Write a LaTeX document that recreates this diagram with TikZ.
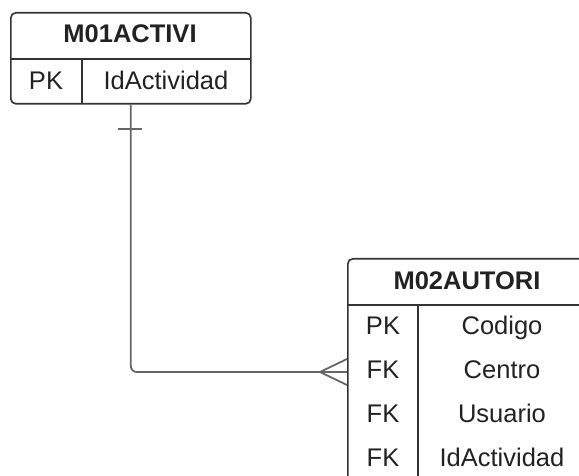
\documentclass[tikz,border=0pt]{standalone}
\usepackage{fontspec}
\setmainfont{Liberation Sans}
\begin{document}
\begin{tikzpicture}[x=1pt,y=-1pt,
  frame/.style={draw=framecol, line width=1.6pt, rounded corners=5pt, inner sep=0pt, anchor=north west},
  rule/.style={draw=framecol, line width=1.6pt},
  hdr/.style={font=\fontsize{25.5}{30}\selectfont\bfseries, text=textcol, inner sep=0pt, text height=18.3pt, text depth=0pt},
  cell/.style={font=\fontsize{25.5}{30}\selectfont, text=textcol, inner sep=0pt, text height=18.3pt, text depth=0pt},
  conn/.style={draw=conncol, line width=1.8pt}]
\definecolor{framecol}{HTML}{333333}
\definecolor{textcol}{HTML}{222222}
\definecolor{conncol}{HTML}{666666}
\useasboundingbox (0,0) rectangle (579,476);
\clip (0,0) rectangle (579,476);

% entity M01ACTIVI
\node[frame, minimum width=240pt, minimum height=91pt] (act) at (10,12) {};
\draw[rule] (10,59) -- (250,59);
\draw[rule] (82,59) -- (82,103);
\node[hdr] (acth) at (130,33.5) {M01ACTIVI};
\node[cell] (actk1) at (46,80) {PK};
\node[cell] (actf1) at (166,80) {IdActividad};

% entity M02AUTORI
\node[frame, minimum width=240pt, minimum height=223pt] (aut) at (347,258) {};
\draw[rule] (347,305) -- (587,305);
\draw[rule] (418,305) -- (418,481);
\node[hdr] (auth) at (467,280.5) {M02AUTORI};
\node[cell] (autk1) at (383,325) {PK};
\node[cell] (autf1) at (502,325) {Codigo};
\node[cell] (autk2) at (383,369) {FK};
\node[cell] (autf2) at (502,369) {Centro};
\node[cell] (autk3) at (383,413) {FK};
\node[cell] (autf3) at (502,413) {Usuario};
\node[cell] (autk4) at (383,457) {FK};
\node[cell] (autf4) at (502,457) {IdActividad};

% relationship: one M01ACTIVI to many M02AUTORI
\coordinate (jn) at (347,372);
\draw[conn, rounded corners=6pt] (act.south) |- (jn);
\draw[conn] (118,129) -- (142,129);
\draw[conn] (320,372) -- (347,359);
\draw[conn] (320,372) -- (347,385);
\end{tikzpicture}
\end{document}
